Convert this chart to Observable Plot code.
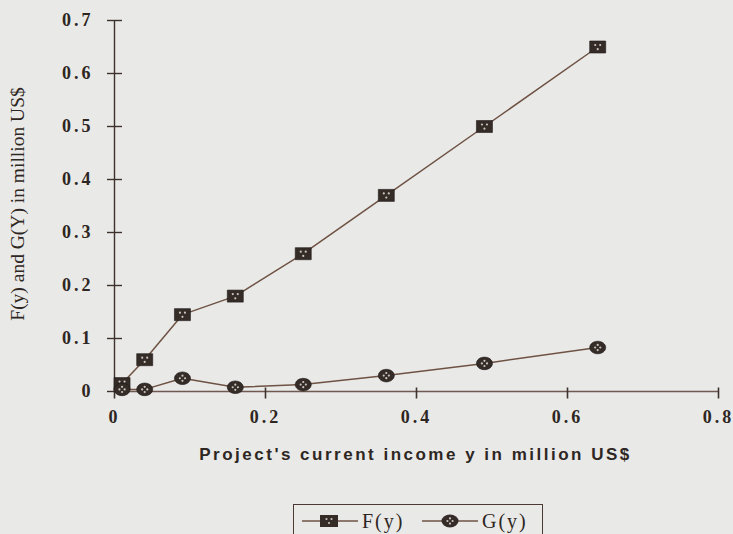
<!DOCTYPE html>
<html>
<head>
<meta charset="utf-8">
<script src="https://cdn.jsdelivr.net/npm/d3@7"></script>
<script src="https://cdn.jsdelivr.net/npm/@observablehq/plot@0.6"></script>
<style>
  html, body { margin: 0; padding: 0; background: #e9e9e7; overflow: hidden; }
  #wrap { position: relative; width: 733px; height: 534px; }
  #legend {
    position: absolute; left: 293px; top: 504px; width: 250px; height: 40px;
    border: 1.5px solid #4a3a33; box-sizing: border-box;
    font-family: "Liberation Serif", "DejaVu Serif", serif; font-size: 20px; color: #2e2622;
    letter-spacing: 2px;
  }
  #legend .item { position: absolute; top: 3px; display: flex; align-items: center; height: 26px; }
  #legend svg { display: block; }
</style>
</head>
<body>
<div id="wrap">
  <div id="chart"></div>
  <div id="legend"></div>
</div>
<script>
// ---- data ----
const incomeY = [0.01, 0.04, 0.09, 0.16, 0.25, 0.36, 0.49, 0.64];
const fValues = [0.015, 0.06, 0.145, 0.18, 0.26, 0.37, 0.50, 0.65];
const gValues = [0.004, 0.004, 0.025, 0.008, 0.013, 0.030, 0.053, 0.083];
const seriesNames = ["F(y)", "G(y)"];
const xTicks = [0, 0.2, 0.4, 0.6, 0.8];
const yTicks = [0, 0.1, 0.2, 0.3, 0.4, 0.5, 0.6, 0.7];
const xLabel = "Project's current income y in million US$";
const yLabel = "F(y) and G(Y) in million US$";

const lineColor = "#6e5244";
const markColor = "#352c28";
const speckColor = "#c9c4bf";

const F = incomeY.map((x, i) => ({x, v: fValues[i]}));
const G = incomeY.map((x, i) => ({x, v: gValues[i]}));

// custom symbols
const rectSym = {draw(c) { c.moveTo(-8, -6); c.lineTo(8, -6); c.lineTo(8, 6); c.lineTo(-8, 6); c.closePath(); }};
const ellSym = {draw(c) {
  const rx = 8, ry = 6.3, k = 0.5523;
  c.moveTo(rx, 0);
  c.bezierCurveTo(rx, ry * k, rx * k, ry, 0, ry);
  c.bezierCurveTo(-rx * k, ry, -rx, ry * k, -rx, 0);
  c.bezierCurveTo(-rx, -ry * k, -rx * k, -ry, 0, -ry);
  c.bezierCurveTo(rx * k, -ry, rx, -ry * k, rx, 0);
  c.closePath();
}};
function dots(pts, r) {
  return {draw(c) { for (const [x, y] of pts) { c.moveTo(x + r, y); c.arc(x, y, r, 0, 2 * Math.PI); } }};
}
const rectSpeck = dots([[-2.5, -2], [2.5, -2], [0, 2.2]], 1.1);
const ellSpeck = dots([[0, -2.6], [-2.6, 0], [2.6, 0], [0, 2.6]], 1.1);
const hTick = {draw(c) { c.moveTo(-7.5, 0); c.lineTo(7.5, 0); }};
const vTick = {draw(c) { c.moveTo(0, -4); c.lineTo(0, 7); }};

const tickFont = {fontFamily: "'Liberation Serif', serif", fontWeight: "bold", fontSize: 18};

const chart = Plot.plot({
  width: 733,
  height: 500,
  marginLeft: 114,
  marginRight: 15,
  marginTop: 20,
  marginBottom: 109,
  style: {background: "#e9e9e7", color: "#2e2622", overflow: "visible"},
  x: {domain: [0, 0.8]},
  y: {domain: [0, 0.7]},
  marks: [
    // axis lines
    Plot.ruleX([0], {y1: 0, y2: 0.7, stroke: "#3e322c", strokeWidth: 1.4}),
    Plot.ruleY([0], {x1: 0, x2: 0.8, stroke: "#6e5a50", strokeWidth: 1.6}),
    // crossing tick marks
    Plot.dot(yTicks, {x: 0, y: d => d, symbol: hTick, r: 3, stroke: "#3e322c", strokeWidth: 1.4, fill: "none"}),
    Plot.dot(xTicks, {x: d => d, y: 0, symbol: vTick, r: 3, stroke: "#3e322c", strokeWidth: 1.6, fill: "none"}),
    // tick labels
    Plot.axisY(yTicks, {tickSize: 0, tickPadding: 21, label: null, tickFormat: d => d === 0 ? "0" : d.toFixed(1), ...tickFont}),
    Plot.axisX(xTicks, {tickSize: 0, tickPadding: 19, label: null, tickFormat: d => d === 0 ? "0" : d.toFixed(1), ...tickFont}),
    // axis titles
    Plot.text([yLabel], {frameAnchor: "left", textAnchor: "middle", rotate: -90, dx: -97, dy: -2,
      fontFamily: "'Liberation Serif', serif", fontSize: 19.5, fill: "#2e2622", ariaLabel: "ylabel"}),
    Plot.text([xLabel], {frameAnchor: "bottom", textAnchor: "middle", dy: 68, dx: -1,
      fontFamily: "'Liberation Sans', Arial, sans-serif", fontWeight: "bold", fontSize: 17, fill: "#2e2622", ariaLabel: "xlabel"}),
    // series lines
    Plot.line(F, {x: "x", y: "v", stroke: lineColor, strokeWidth: 1.5}),
    Plot.line(G, {x: "x", y: "v", stroke: lineColor, strokeWidth: 1.5}),
    // markers
    Plot.dot(F, {x: "x", y: "v", symbol: rectSym, r: 5, fill: markColor, stroke: "#1f1a18", strokeWidth: 0.6}),
    Plot.dot(F, {x: "x", y: "v", symbol: rectSpeck, r: 5, fill: speckColor}),
    Plot.dot(G, {x: "x", y: "v", symbol: ellSym, r: 5, fill: markColor, stroke: "#1f1a18", strokeWidth: 0.6}),
    Plot.dot(G, {x: "x", y: "v", symbol: ellSpeck, r: 5, fill: speckColor})
  ]
});
const sel = d3.select(chart);
sel.selectAll("g[aria-label='y-axis tick label'] text, g[aria-label='x-axis tick label'] text").attr("letter-spacing", "3px");
sel.selectAll("[aria-label='xlabel']").attr("letter-spacing", "2.5px");
sel.selectAll("text").filter(function() { return this.textContent === xLabel; }).attr("letter-spacing", "2.5px");
document.getElementById("chart").appendChild(chart);

// legend
const legend = document.getElementById("legend");
function swatch(kind) {
  const ns = "http://www.w3.org/2000/svg";
  const s = document.createElementNS(ns, "svg");
  s.setAttribute("width", 60); s.setAttribute("height", 20);
  s.innerHTML = `<line x1="2" x2="58" y1="10" y2="10" stroke="${lineColor}" stroke-width="1.6"/>` +
    (kind === 0
      ? `<rect x="20" y="4" width="18" height="12" fill="${markColor}"/>
         <circle cx="26.5" cy="8" r="1.1" fill="${speckColor}"/><circle cx="31.5" cy="8" r="1.1" fill="${speckColor}"/><circle cx="29" cy="12" r="1.1" fill="${speckColor}"/>`
      : `<ellipse cx="30" cy="10" rx="8.5" ry="6.5" fill="${markColor}"/>
         <circle cx="30" cy="7.4" r="1.1" fill="${speckColor}"/><circle cx="27.4" cy="10" r="1.1" fill="${speckColor}"/><circle cx="32.6" cy="10" r="1.1" fill="${speckColor}"/><circle cx="30" cy="12.6" r="1.1" fill="${speckColor}"/>`);
  return s;
}
const lefts = [6, 126];
seriesNames.forEach((name, i) => {
  const item = document.createElement("div");
  item.className = "item";
  item.style.left = lefts[i] + "px";
  item.appendChild(swatch(i));
  const t = document.createElement("span");
  t.textContent = name;
  t.style.marginLeft = "2px";
  item.appendChild(t);
  legend.appendChild(item);
});
</script>
</body>
</html>
